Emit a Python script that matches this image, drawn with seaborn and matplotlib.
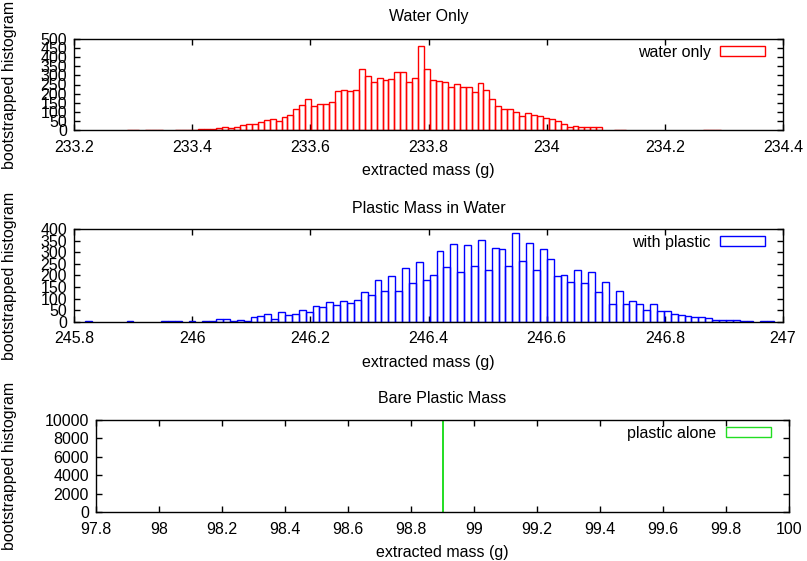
import numpy as np
import pandas as pd
import matplotlib
matplotlib.use('Agg')
import matplotlib.pyplot as plt
import seaborn as sns
from matplotlib.patches import Patch
from matplotlib.ticker import MultipleLocator, FuncFormatter

sns.set_style('ticks', {'axes.edgecolor': 'black', 'xtick.color': 'black',
                        'ytick.color': 'black', 'text.color': 'black',
                        'axes.labelcolor': 'black'})
plt.rcParams['font.family'] = ['Liberation Sans', 'DejaVu Sans']

# water only: 100 bins from 233.29
water_start = 233.29
water_width = 0.01005
water_counts = [1, 1, 0, 1, 1, 1, 0, 0, 1, 1,
                1, 2, 4, 5, 4, 11, 15, 13, 18, 27,
                33, 31, 42, 53, 59, 51, 70, 81, 117, 136,
                169, 132, 143, 143, 152, 212, 218, 212, 218, 333,
                299, 262, 284, 275, 278, 317, 319, 264, 288, 460,
                333, 273, 271, 266, 234, 251, 234, 234, 211, 256,
                218, 170, 132, 114, 117, 97, 79, 92, 82, 77,
                68, 59, 51, 33, 18, 24, 15, 15, 15, 15,
                0, 0, 2, 2, 0, 0, 0, 0, 0, 0,
                0, 0, 0, 0, 0, 0, 0, 1, 1, 1]

# with plastic: 100 bins from 245.819
plastic_start = 245.819
plastic_width = 0.01166
plastic_counts = [1, 0, 0, 0, 0, 0, 1, 0, 0, 0,
                  0, 1, 2, 2, 0, 3, 0, 3, 3, 10,
                  10, 4, 9, 1, 19, 23, 32, 13, 40, 29,
                  32, 49, 40, 69, 62, 87, 71, 88, 82, 95,
                  129, 117, 180, 131, 198, 133, 234, 169, 257, 179,
                  202, 306, 235, 335, 214, 332, 240, 352, 224, 321,
                  313, 240, 383, 263, 342, 225, 316, 273, 196, 202,
                  173, 222, 166, 215, 129, 173, 78, 134, 78, 90,
                  75, 52, 78, 46, 48, 32, 29, 25, 20, 20,
                  14, 7, 6, 6, 6, 3, 3, 0, 3, 1]

# plastic alone: every sample lands in one bin
alone_start = 98.89995
alone_width = 0.0001
alone_counts = [10000]

FS = 11.5
fmt = FuncFormatter(lambda v, _: f'{v:g}')


def draw_panel(ax, start, width, counts, color, label, title, tpad,
               xlim, xstep, ylim, ystep, ylab_x, lw=1.0):
    edges = [start + width * i for i in range(len(counts) + 1)]
    df = pd.DataFrame({'mass': [e + width / 2 for e in edges[:-1]], 'count': counts})
    sns.histplot(data=df, x='mass', weights='count', bins=edges, fill=False,
                 color=color, linewidth=lw, ax=ax)
    for p in list(ax.patches):
        if p.get_height() == 0:
            p.remove()
    ax.set_xlim(*xlim)
    ax.set_ylim(*ylim)
    ax.xaxis.set_major_locator(MultipleLocator(xstep))
    ax.yaxis.set_major_locator(MultipleLocator(ystep))
    ax.xaxis.set_major_formatter(fmt)
    ax.yaxis.set_major_formatter(fmt)
    ax.tick_params(direction='in', top=True, right=True, length=4.5,
                   width=1, labelsize=FS)
    ax.tick_params(axis='x', pad=7)
    ax.tick_params(axis='y', pad=5)
    for s in ax.spines.values():
        s.set_linewidth(1)
        s.set_color('black')
    ax.set_title(title, fontsize=FS, pad=tpad)
    ax.set_xlabel('extracted mass (g)', fontsize=FS, labelpad=6)
    ax.set_ylabel('bootstrapped histogram', fontsize=FS)
    ax.yaxis.set_label_coords(ylab_x, 0.5)
    w_px = ax.get_position().width * 807
    ax.legend(handles=[Patch(facecolor='none', edgecolor=color, linewidth=1, label=label)],
              loc='upper right', frameon=False, markerfirst=False, fontsize=FS,
              handlelength=2.8, handleheight=0.55, handletextpad=0.6,
              borderaxespad=0, borderpad=0.35,
              bbox_to_anchor=(1 - 12.5 / w_px, 1))


fig = plt.figure(figsize=(8.07, 5.61), dpi=100)
ax1 = fig.add_axes([74 / 807, 1 - 130 / 561, 709 / 807, 91 / 561])
ax2 = fig.add_axes([74 / 807, 1 - 321.7 / 561, 709 / 807, 92.4 / 561])
ax3 = fig.add_axes([96 / 807, 1 - 512 / 561, 693 / 807, 92 / 561])

draw_panel(ax1, water_start, water_width, water_counts, '#ff0000', 'water only',
           'Water Only', 13, (233.2, 234.4), 0.2, (0, 500), 50, (17 - 74) / 709)
draw_panel(ax2, plastic_start, plastic_width, plastic_counts, '#0000ff', 'with plastic',
           'Plastic Mass in Water', 11.5, (245.8, 247.0), 0.2, (0, 400), 50, (17 - 74) / 709)
draw_panel(ax3, alone_start, alone_width, alone_counts, '#22dd22', 'plastic alone',
           'Bare Plastic Mass', 12, (97.8, 100.0), 0.2, (0, 10000), 2000, (17 - 96) / 693,
           lw=0.7)

fig.savefig('out.png', dpi=100, facecolor='white')
